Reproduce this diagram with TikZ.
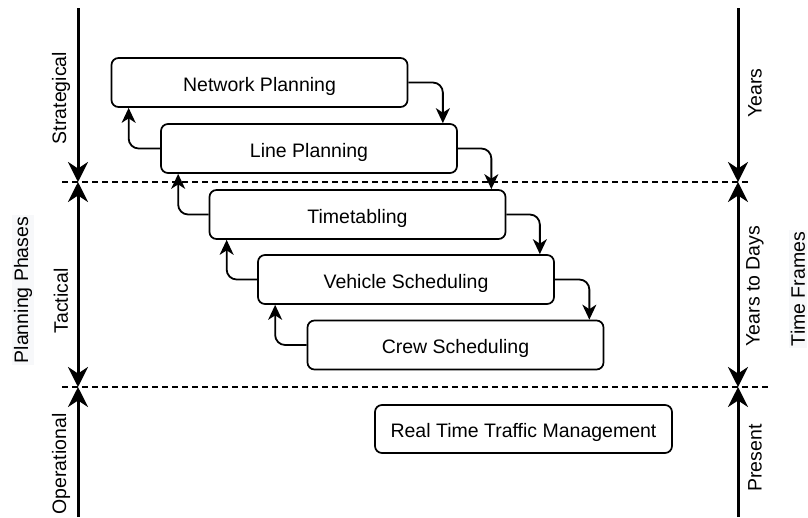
\documentclass[tikz,border=0pt]{standalone}
\usepackage{fontspec}
\setmainfont{Liberation Sans}
\usetikzlibrary{arrows.meta,calc}
\begin{document}
\begin{tikzpicture}[x=1pt,y=-1pt,
  box/.style={draw, line width=1.7pt, rounded corners=7pt, minimum width=296pt, minimum height=49pt, inner sep=0pt, text height=17.4pt, text depth=0pt, font=\fontsize{19.5}{23}\selectfont},
  conn/.style={line width=1.8pt, rounded corners=10pt, -{Stealth[length=15pt,width=14pt,inset=4.5pt]}},
  axis/.style={line width=3pt},
  ahead/.style={-{Stealth[length=20pt,width=20pt,inset=6.5pt]}},
  dhead/.style={{Stealth[length=20pt,width=20pt,inset=6.5pt]}-{Stealth[length=20pt,width=20pt,inset=6.5pt]}},
  sep/.style={line width=1.3pt, dash pattern=on 6pt off 4pt},
  lbl/.style={rotate=90, inner sep=0pt, font=\fontsize{19.5}{23}\selectfont},
]
\useasboundingbox (0,0) rectangle (808,517);
% separators
\coordinate (s1l) at (62,182); \coordinate (s1r) at (750,182);
\coordinate (s2l) at (62,387); \coordinate (s2r) at (768,387);
\draw[sep] (s1l) -- (s1r);
\draw[sep] (s2l) -- (s2r);
% left axis
\coordinate (lt) at (78,8); \coordinate (l1) at (78,182); \coordinate (l2) at (78,387); \coordinate (lb) at (78,517);
\draw[axis,ahead] (lt) -- (l1);
\draw[axis,dhead] (l1) -- (l2);
\draw[axis,ahead] (lb) -- (l2);
% right axis
\coordinate (rt) at (738,8); \coordinate (r1) at (738,182); \coordinate (r2) at (738,387); \coordinate (rb) at (738,517);
\draw[axis,ahead] (rt) -- (r1);
\draw[axis,dhead] (r1) -- (r2);
\draw[axis,ahead] (rb) -- (r2);
% labels
\node[lbl] (strat) at (61,98) {Strategical};
\node[lbl] (tact) at (61,301) {Tactical};
\node[lbl] (oper) at (61,464) {Operational};
\node[lbl, fill={rgb,255:red,247;green,248;blue,250}, inner sep=2pt] (phases) at (23,290) {Planning Phases};
\node[lbl] (years) at (755,93) {Years};
\node[lbl] (ytd) at (755,286) {Years to Days};
\node[lbl] (pres) at (755,458) {Present};
\node[lbl, fill={rgb,255:red,247;green,248;blue,250}, inner sep=2pt] (tf) at (798,289) {Time Frames};
% boxes
\node[box] (np) at (259.5,82.5) {Network Planning};
\node[box] (lp) at (309,148.5) {Line Planning};
\node[box] (tt) at (357.5,214.5) {Timetabling};
\node[box] (vs) at (406,279.5) {Vehicle Scheduling};
\node[box] (cs) at (455.5,345) {Crew Scheduling};
\node[box, minimum width=297pt, minimum height=48pt] (rttm) at (523.5,429) {Real Time Traffic Management};
% forward connectors
\draw[conn] (np.east) -| ($(lp.north east)+(-15,0)$);
\draw[conn] (lp.east) -| ($(tt.north east)+(-15,0)$);
\draw[conn] (tt.east) -| ($(vs.north east)+(-15,0)$);
\draw[conn] (vs.east) -| ($(cs.north east)+(-15,0)$);
% backward connectors
\draw[conn] (lp.west) -| ($(np.south west)+(18,0)$);
\draw[conn] (tt.west) -| ($(lp.south west)+(18,0)$);
\draw[conn] (vs.west) -| ($(tt.south west)+(18,0)$);
\draw[conn] (cs.west) -| ($(vs.south west)+(18,0)$);
\end{tikzpicture}
\end{document}
